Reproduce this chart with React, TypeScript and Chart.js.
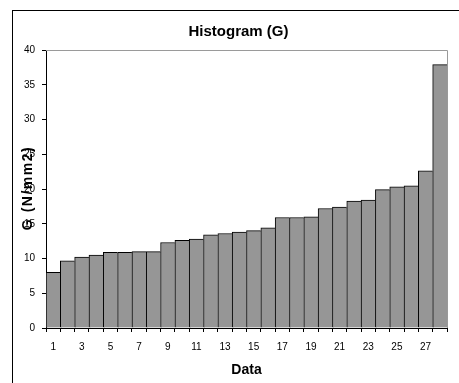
import React, { useEffect, useRef } from "react";
import { Chart, registerables } from "chart.js";

Chart.register(...registerables);

const categories: string[] = [
  "1", "2", "3", "4", "5", "6", "7", "8", "9", "10", "11", "12", "13", "14",
  "15", "16", "17", "18", "19", "20", "21", "22", "23", "24", "25", "26", "27", "28",
];
const gValues: number[] = [
  8.0, 9.65, 10.2, 10.5, 10.9, 10.9, 11.0, 11.0, 12.3, 12.6, 12.8, 13.4, 13.6, 13.8,
  14.0, 14.4, 15.9, 15.9, 16.0, 17.2, 17.4, 18.25, 18.4, 19.9, 20.3, 20.45, 22.6, 37.9,
];
const yTicks: number[] = [0, 5, 10, 15, 20, 25, 30, 35, 40];
const chartTitle = "Histogram (G)";
const xTitle = "Data";
const yTitle = "G (N/mm2)";

const FONT = "'Liberation Sans', Arial, sans-serif";

const decorations = {
  id: "decorations",
  afterDatasetsDraw(chart: any) {
    const { ctx, chartArea } = chart;
    ctx.save();
    ctx.strokeStyle = "#9a9a9a";
    ctx.lineWidth = 1;
    ctx.beginPath();
    ctx.moveTo(chartArea.left, Math.round(chartArea.top) + 0.5);
    ctx.lineTo(Math.round(chartArea.right) + 0.5, Math.round(chartArea.top) + 0.5);
    ctx.lineTo(Math.round(chartArea.right) + 0.5, chartArea.bottom);
    ctx.stroke();
    ctx.restore();
  },
  afterDraw(chart: any) {
    const { ctx, chartArea } = chart;
    ctx.save();
    ctx.fillStyle = "#000";
    ctx.font = `bold 15px ${FONT}`;
    ctx.textAlign = "center";
    ctx.textBaseline = "middle";
    ctx.fillText(chartTitle, (chartArea.left + chartArea.right) / 2 - 8, chartArea.top - 18);
    ctx.font = `bold 14px ${FONT}`;
    ctx.translate(chartArea.left - 18, (chartArea.top + chartArea.bottom) / 2 - 1);
    ctx.rotate(-Math.PI / 2);
    (ctx as any).letterSpacing = "1.5px";
    ctx.fillText(yTitle, 0, 0);
    ctx.restore();
  },
};

export default function App() {
  const canvasRef = useRef<HTMLCanvasElement | null>(null);

  useEffect(() => {
    if (!canvasRef.current) return;
    const chart = new Chart(canvasRef.current, {
      type: "bar",
      data: {
        labels: categories,
        datasets: [
          {
            data: gValues,
            backgroundColor: "#969696",
            borderColor: "#000000",
            borderWidth: { top: 1, left: 1, right: 0, bottom: 0 } as any,
            borderSkipped: false as any,
            categoryPercentage: 1,
            barPercentage: 1,
          },
        ],
      },
      options: {
        responsive: false,
        animation: false,
        devicePixelRatio: 1,
        layout: { padding: { left: 12, right: 12, top: 50, bottom: 0 } },
        plugins: {
          legend: { display: false },
          tooltip: { enabled: false },
          title: { display: false },
        },
        scales: {
          x: {
            offset: true,
            grid: {
              offset: true,
              drawOnChartArea: false,
              drawTicks: true,
              tickLength: 4,
              color: "#000",
            },
            border: { color: "#000", width: 1 },
            ticks: {
              autoSkip: false,
              maxRotation: 0,
              color: "#000",
              padding: 9,
              font: { family: FONT, size: 10 },
              callback: (_v: any, i: number) => (i % 2 === 0 ? categories[i] : ""),
            },
            title: {
              display: true,
              text: xTitle,
              color: "#000",
              font: { family: FONT, size: 14, weight: "bold" },
              padding: { top: 0, bottom: 4 },
            },
            afterFit: (scale: any) => {
              scale.height = 55;
            },
          },
          y: {
            min: 0,
            max: 40,
            afterBuildTicks: (scale: any) => {
              scale.ticks = yTicks.map((v) => ({ value: v }));
            },
            grid: {
              drawOnChartArea: false,
              drawTicks: true,
              tickLength: 4,
              color: "#000",
            },
            border: { color: "#000", width: 1 },
            ticks: {
              color: "#000",
              padding: 7,
              font: { family: FONT, size: 10 },
            },
            afterFit: (scale: any) => {
              scale.width = 34;
            },
          },
        },
      },
      plugins: [decorations],
    });
    return () => chart.destroy();
  }, []);

  return (
    <div
      style={{
        position: "fixed",
        left: 0,
        top: 0,
        width: 459,
        height: 383,
        overflow: "hidden",
        background: "#fff",
      }}
    >
      <div
        style={{
          position: "absolute",
          left: 12,
          top: 10,
          width: 600,
          height: 600,
          borderTop: "1px solid #000",
          borderLeft: "1px solid #000",
        }}
      />
      <canvas
        ref={canvasRef}
        width={459}
        height={383}
        style={{ position: "absolute", left: 0, top: 0, width: 459, height: 383 }}
      />
    </div>
  );
}
